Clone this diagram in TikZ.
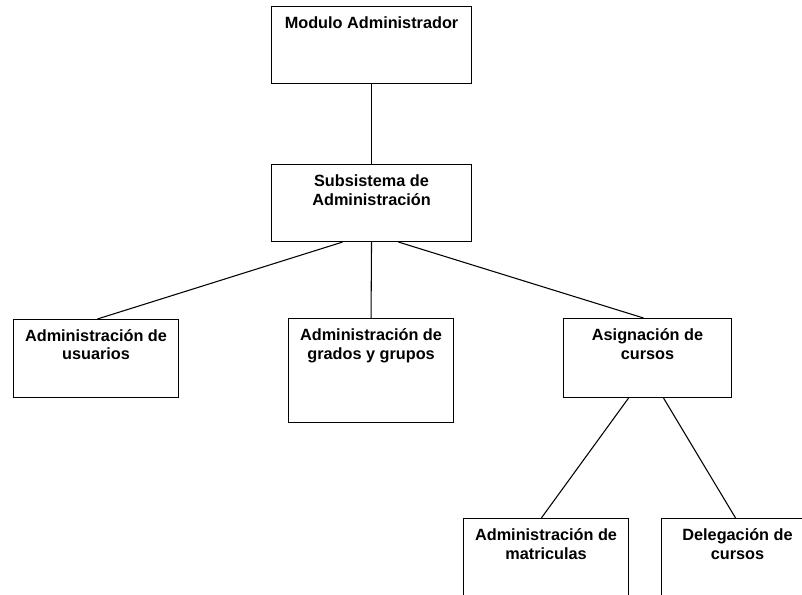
\documentclass[tikz,border=0pt]{standalone}
\usepackage{fontspec}
\setmainfont{Liberation Sans}
\usetikzlibrary{positioning}

\begin{document}
\begin{tikzpicture}[x=0.75pt,y=-0.75pt,
	modbox/.style={draw, line width=0.8pt, anchor=north west, inner sep=0pt},
	modtext/.style={inner sep=0pt, align=center, font=\fontsize{12.2}{13.9}\selectfont\bfseries}]
	% page
	\clip (0,0) rectangle (802,594);
	
	% draw boxes
	\node[modbox, minimum width=150pt, minimum height=57.75pt] (mod) at (271,6) {};
	\node[modbox, minimum width=150pt, minimum height=57.75pt] (sub) at (271,164) {};
	\node[modbox, minimum width=123.75pt, minimum height=58.5pt] (usu) at (13,319) {};
	\node[modbox, minimum width=123.75pt, minimum height=78pt] (gra) at (288,318) {};
	\node[modbox, minimum width=126pt, minimum height=59.25pt] (asi) at (563,318) {};
	\node[modbox, minimum width=123.75pt, minimum height=75pt] (mat) at (463,518) {};
	\node[modbox, minimum width=114pt, minimum height=75pt] (del) at (661,518) {};
	
	% draw texts
	\node[modtext, below=8pt of mod.north] (modtxt) {Modulo Administrador};
	\node[modtext, below=8pt of sub.north] (subtxt) {Subsistema de\\Administración};
	\node[modtext, below=7.5pt of usu.north] (usutxt) {Administración de\\usuarios};
	\node[modtext, below=8pt of gra.north] (gratxt) {Administración de\\grados y grupos};
	\node[modtext, below=8pt of asi.north] (asitxt) {Asignación de\\cursos};
	\node[modtext, below=8pt of mat.north] (mattxt) {Administración de\\matriculas};
	\node[modtext, below=8pt of del.north] (deltxt) {Delegación de\\cursos};
	
	%%%lines
	\draw[line width=0.8pt] (mod.south) -- (sub.north);
	\draw[line width=0.8pt] ([xshift=-21.75pt]sub.south) -- ([xshift=1pt]usu.north);
	\draw[line width=0.8pt] (sub.south) -- (gra.north);
	\draw[line width=0.8pt] ([xshift=20.25pt]sub.south) -- ([xshift=-3pt]asi.north);
	\draw[line width=0.8pt] ([xshift=-14.25pt]asi.south) -- ([xshift=-3.5pt]mat.north);
	\draw[line width=0.8pt] ([xshift=12pt]asi.south) -- ([xshift=-1.5pt]del.north);
	
\end{tikzpicture}
\end{document}
